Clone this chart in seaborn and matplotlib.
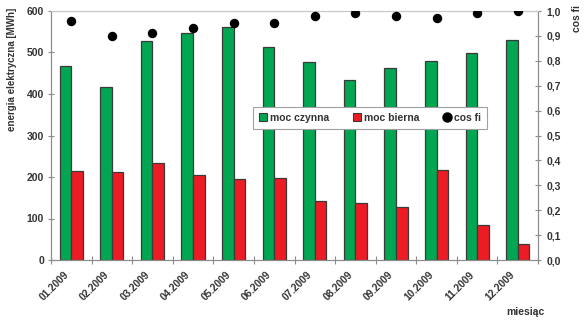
import matplotlib
matplotlib.use("Agg")
import matplotlib.pyplot as plt
from matplotlib.lines import Line2D
from matplotlib.patches import Patch
from matplotlib.ticker import FuncFormatter, FixedLocator
from matplotlib.transforms import ScaledTranslation
import pandas as pd
import seaborn as sns

# Monthly energy data for 2009
months = ["01.2009", "02.2009", "03.2009", "04.2009", "05.2009", "06.2009",
          "07.2009", "08.2009", "09.2009", "10.2009", "11.2009", "12.2009"]
moc_czynna = [468, 416, 527, 548, 561, 514, 476, 434, 462, 479, 498, 529]
moc_bierna = [214, 212, 234, 206, 196, 197, 143, 138, 128, 217, 85, 39]
cos_fi = [0.96, 0.90, 0.91, 0.93, 0.95, 0.95, 0.98, 0.99, 0.98, 0.97, 0.99, 1.00]
series_names = ["moc czynna", "moc bierna", "cos fi"]

GREEN = "#00A651"
RED = "#ED1C24"
EDGE = "#3a3a3a"
AXIS = "#8c8c8c"
TXT = "#333333"

sns.set_theme(style="white")
plt.rcParams["font.family"] = ["Liberation Sans", "DejaVu Sans"]

df = pd.DataFrame({
    "miesiac": months * 2,
    "energia": moc_czynna + moc_bierna,
    "seria": [series_names[0]] * len(months) + [series_names[1]] * len(months),
})

fig = plt.figure(figsize=(5.84, 3.22), dpi=100)
ax = fig.add_axes([51 / 584, 62 / 322, 487 / 584, 249 / 322])

sns.barplot(data=df, x="miesiac", y="energia", hue="seria",
            palette=[GREEN, RED], width=0.57, gap=0, edgecolor=EDGE,
            linewidth=0.9, saturation=1, legend=False, ax=ax)

ax2 = ax.twinx()
sns.stripplot(x=months, y=cos_fi, jitter=False, color="black", size=6.8,
              ax=ax2, zorder=5)

ax.set_xlim(-0.5, len(months) - 0.5)
ax.set_ylim(0, 600)
ax2.set_ylim(0, 1.0)

# Category boundaries as tick marks, labels at category centres
ax.xaxis.set_major_locator(FixedLocator(range(len(months))))
ax.xaxis.set_minor_locator(FixedLocator([i - 0.5 for i in range(len(months) + 1)]))
ax.tick_params(axis="x", which="major", length=0, pad=7)
ax.tick_params(axis="x", which="minor", length=6, width=0.8, color=AXIS,
               direction="inout", bottom=True)
ax.set_xticklabels(months, rotation=45, ha="right", rotation_mode="anchor",
                   fontsize=7.3, fontweight="bold", color=TXT)
shift = ScaledTranslation(-8 / 100, 0, fig.dpi_scale_trans)
for lab in ax.get_xticklabels():
    lab.set_transform(lab.get_transform() + shift)

ax.set_yticks(range(0, 601, 100))
ax.tick_params(axis="y", which="major", length=4, width=0.8, color=AXIS,
               direction="inout", left=True, labelsize=7.5, labelcolor=TXT, pad=3)
for lab in ax.get_yticklabels():
    lab.set_fontweight("bold")

ax2.set_yticks([i / 10 for i in range(11)])
ax2.yaxis.set_major_formatter(FuncFormatter(lambda v, p: f"{v:.1f}".replace(".", ",")))
ax2.tick_params(axis="y", length=4, width=0.8, color=AXIS, direction="inout",
                right=True, labelsize=7.5, labelcolor=TXT, pad=4)
for lab in ax2.get_yticklabels():
    lab.set_fontweight("bold")

for a in (ax, ax2):
    for s in a.spines.values():
        s.set_color(AXIS)
        s.set_linewidth(0.8)
ax2.spines["top"].set_color("#c8c8c8")
ax.spines["top"].set_color("#c8c8c8")

ax.set_xlabel("")
ax.set_ylabel("")
ax2.set_ylabel("")
fig.text(12 / 584, 1 - 8 / 322, "energia elektryczna [MWh]", rotation=90,
         ha="center", va="top", fontsize=7, fontweight="bold", color=TXT)
fig.text(577 / 584, 1 - 5 / 322, "cos fi", rotation=90, ha="center", va="top",
         fontsize=7.5, fontweight="bold", color=TXT)
fig.text(525 / 584, 1 - 312 / 322, "miesiąc", ha="center", va="center",
         fontsize=7.5, fontweight="bold", color=TXT)

handles = [
    Patch(facecolor=GREEN, edgecolor=EDGE, linewidth=0.8),
    Patch(facecolor=RED, edgecolor=EDGE, linewidth=0.8),
    Line2D([], [], marker="o", linestyle="", color="black", markersize=6.5),
]
leg = ax2.legend(handles, series_names, ncol=3, loc="center",
                 bbox_to_anchor=((370 - 51) / 487, 0.57), frameon=True,
                 fancybox=False, fontsize=7.5, handlelength=0.8,
                 handleheight=0.8, handletextpad=0.3, columnspacing=2.2,
                 borderpad=0.55, edgecolor="#a0a0a0", framealpha=1)
leg.get_frame().set_linewidth(0.8)
for t in leg.get_texts():
    t.set_fontweight("bold")
    t.set_color(TXT)

fig.savefig("out.png", dpi=100)
